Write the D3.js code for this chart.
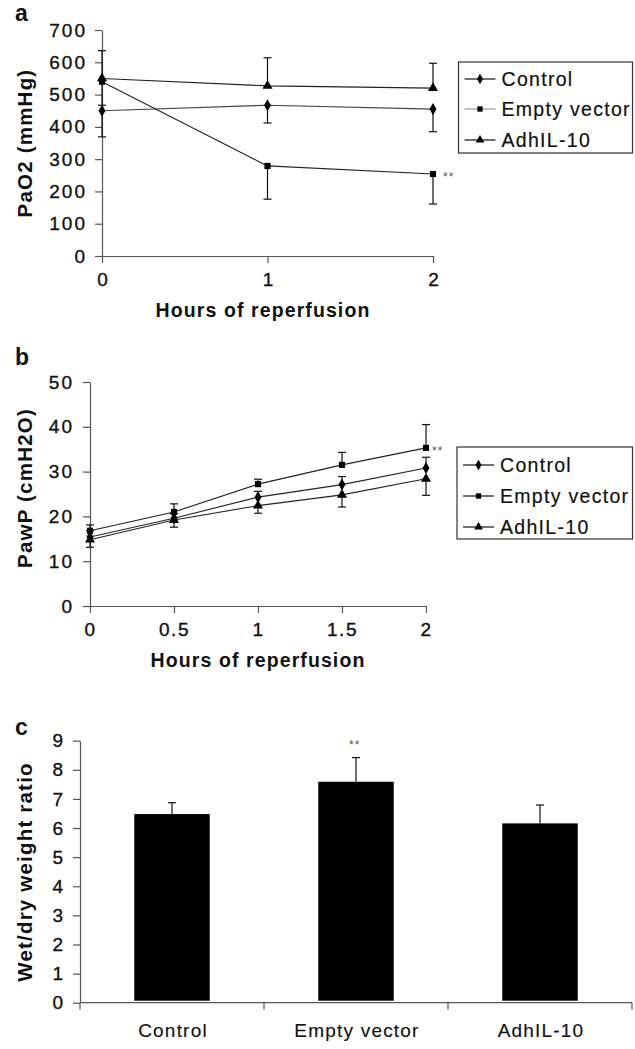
<!DOCTYPE html>
<html>
<head>
<meta charset="utf-8">
<script src="https://cdn.jsdelivr.net/npm/d3@7"></script>
<style>
  html, body { margin: 0; padding: 0; background: #fff; }
  svg { display: block; font-family: "Liberation Sans", Arial, sans-serif; }
</style>
</head>
<body>
<svg id="chart" width="635" height="1049"></svg>
<script>
// ---------------- DATA ----------------
const seriesNames = ["Control", "Empty vector", "AdhIL-10"];

// Panel a: PaO2 (mmHg)
const hoursA = [0, 1, 2];
const paO2Control = [450, 467, 455];
const paO2Empty = [540, 279, 254];
const paO2Adh = [550, 527, 520];
// one-sided error bar ends (as drawn)
const paO2ControlErr = [369, 412, 385];   // minus
const paO2EmptyErr = [467, 176, 161];     // minus
const paO2AdhErr = [636, 614, 597];       // plus
const ticksAY = [0, 100, 200, 300, 400, 500, 600, 700];
const ticksAX = [0, 1, 2];

// Panel b: PawP (cmH2O)
const hoursB = [0, 0.5, 1, 1.5, 2];
const pawControl = [15.4, 19.6, 24.3, 27.1, 30.8];
const pawEmpty = [16.8, 21.0, 27.2, 31.5, 35.3];
const pawAdh = [14.8, 19.2, 22.4, 24.8, 28.4];
const pawControlErr = [16.8, 20.6, 25.6, 28.9, 33.2];  // plus
const pawEmptyErr = [18.1, 22.8, 28.3, 34.3, 40.5];    // plus
const pawAdhErr = [13.1, 17.6, 20.7, 22.1, 24.7];      // minus
const ticksBY = [0, 10, 20, 30, 40, 50];
const ticksBX = [0, 0.5, 1, 1.5, 2];

// Panel c: Wet/dry weight ratio
const groupsC = ["Control", "Empty vector", "AdhIL-10"];
const wetDry = [6.48, 7.59, 6.16];
const wetDryErr = [6.87, 8.42, 6.79];  // plus
const ticksCY = [0, 1, 2, 3, 4, 5, 6, 7, 8, 9];

// ---------------- DRAW ----------------
const svg = d3.select("#chart");
const AXIS = "#555";
const LINE = "#222";
const TXT = "#111";
const symbols = [d3.symbolDiamond, d3.symbolSquare, d3.symbolTriangle];
const symSize = [42, 38, 44];

function heavy(sel, w) {
  return sel.attr("stroke", TXT).attr("stroke-width", w == null ? 0.35 : w);
}

function styleAxis(g, fs, ls) {
  g.select(".domain").attr("stroke", AXIS).attr("stroke-width", 1.2);
  g.selectAll(".tick line").attr("stroke", AXIS).attr("stroke-width", 1.2);
  heavy(g.selectAll(".tick text")
    .attr("fill", TXT)
    .style("font-size", fs + "px")
    .style("letter-spacing", ls + "px"));
}

function lineSeries(g, x, y, xs, vals, errs, idx, lineColor) {
  const line = d3.line().x((d, i) => x(xs[i])).y(d => y(d));
  g.append("path").datum(vals)
    .attr("d", line).attr("fill", "none")
    .attr("stroke", lineColor || LINE).attr("stroke-width", 1.1);
  xs.forEach((xv, i) => {
    const px = x(xv);
    g.append("line").attr("x1", px).attr("x2", px)
      .attr("y1", y(vals[i])).attr("y2", y(errs[i]))
      .attr("stroke", "#111").attr("stroke-width", 1.2);
    g.append("line").attr("x1", px - 4).attr("x2", px + 4)
      .attr("y1", y(errs[i])).attr("y2", y(errs[i]))
      .attr("stroke", "#111").attr("stroke-width", 1.2);
  });
  g.selectAll(null).data(vals).enter().append("path")
    .attr("d", d3.symbol().type(symbols[idx]).size(symSize[idx]))
    .attr("transform", (d, i) => `translate(${x(xs[i])},${y(d)})`)
    .attr("fill", "#000");
}

function legend(g, x0, y0, w, h, rowYs, grayIdx) {
  g.append("rect").attr("x", x0).attr("y", y0).attr("width", w).attr("height", h)
    .attr("fill", "#fff").attr("stroke", "#333").attr("stroke-width", 1.2);
  seriesNames.forEach((name, i) => {
    const ry = rowYs[i];
    const col = (i === grayIdx) ? "#999" : "#111";
    g.append("line").attr("x1", x0 + 6).attr("x2", x0 + 37)
      .attr("y1", ry).attr("y2", ry).attr("stroke", col).attr("stroke-width", 1.2);
    g.append("path")
      .attr("d", d3.symbol().type(symbols[i]).size(symSize[i] * 0.75))
      .attr("transform", `translate(${x0 + 21.5},${ry})`).attr("fill", "#000");
    heavy(g.append("text").attr("x", x0 + 43).attr("y", ry + 7)
      .style("font-size", "19.5px").style("letter-spacing", "1.3px")
      .attr("fill", TXT).text(name), 0.2);
  });
}

function yTitle(text, cx, cy) {
  svg.append("text")
    .attr("transform", `translate(${cx},${cy}) rotate(-90)`)
    .attr("text-anchor", "middle").attr("dy", "0.35em")
    .style("font-size", "20.5px").style("font-weight", "bold").style("letter-spacing", "1.2px")
    .attr("fill", TXT).text(text);
}
function xTitle(text, cx, cy) {
  svg.append("text").attr("x", cx).attr("y", cy)
    .attr("text-anchor", "middle").attr("dy", "0.35em")
    .style("font-size", "19.5px").style("font-weight", "bold").style("letter-spacing", "1.1px")
    .attr("fill", TXT).text(text);
}
function panelLabel(t, x, y) {
  svg.append("text").attr("x", x).attr("y", y)
    .style("font-size", "23px").style("font-weight", "bold")
    .attr("fill", TXT).text(t);
}
function stars(x, y) {
  svg.append("text").attr("x", x).attr("y", y)
    .style("font-size", "12px").style("letter-spacing", "1px")
    .attr("fill", "#555").text("**");
}

// ---------- Panel a ----------
const xA = d3.scaleLinear().domain([0, 2]).range([102, 433]);
const yA = d3.scaleLinear().domain([0, 700]).range([256, 30]);
const gA = svg.append("g");
const axAY = gA.append("g").attr("transform", `translate(${xA(0)},0)`)
  .call(d3.axisLeft(yA).tickValues(ticksAY).tickSize(7).tickPadding(8).tickSizeOuter(0));
styleAxis(axAY, 19, 2);
const axAX = gA.append("g").attr("transform", `translate(0,${yA(0)})`)
  .call(d3.axisBottom(xA).tickValues(ticksAX).tickFormat(d3.format("d")).tickSize(7).tickPadding(10).tickSizeOuter(0));
styleAxis(axAX, 19, 0);
lineSeries(gA, xA, yA, hoursA, paO2Control, paO2ControlErr, 0, "#444");
lineSeries(gA, xA, yA, hoursA, paO2Empty, paO2EmptyErr, 1);
lineSeries(gA, xA, yA, hoursA, paO2Adh, paO2AdhErr, 2);
stars(443, 181);
legend(gA, 458.5, 62, 174, 91, [79, 109, 140], 1);
yTitle("PaO2 (mmHg)", 25, 143);
xTitle("Hours of reperfusion", 263, 310);
panelLabel("a", 15, 21);

// ---------- Panel b ----------
const xB = d3.scaleLinear().domain([0, 2]).range([90, 426]);
const yB = d3.scaleLinear().domain([0, 50]).range([606, 382]);
const gB = svg.append("g");
const axBY = gB.append("g").attr("transform", `translate(${xB(0)},0)`)
  .call(d3.axisLeft(yB).tickValues(ticksBY).tickSize(7).tickPadding(9).tickSizeOuter(0));
styleAxis(axBY, 19, 2);
const axBX = gB.append("g").attr("transform", `translate(0,${yB(0)})`)
  .call(d3.axisBottom(xB).tickValues(ticksBX).tickFormat(d => d3.format("")(d)).tickSize(7).tickPadding(10).tickSizeOuter(0));
styleAxis(axBX, 19, 1.5);
lineSeries(gB, xB, yB, hoursB, pawControl, pawControlErr, 0);
lineSeries(gB, xB, yB, hoursB, pawEmpty, pawEmptyErr, 1);
lineSeries(gB, xB, yB, hoursB, pawAdh, pawAdhErr, 2);
stars(432, 455);
legend(gB, 457, 447, 175.5, 92, [465, 496, 527], -1);
yTitle("PawP (cmH2O)", 25, 488);
xTitle("Hours of reperfusion", 258, 660);
panelLabel("b", 15, 365);

// ---------- Panel c ----------
const xC = d3.scaleBand().domain(groupsC).range([80, 632]).padding(0);
const yC = d3.scaleLinear().domain([0, 9]).range([1002.7, 740.7]);
const gC = svg.append("g");
const axCY = gC.append("g").attr("transform", `translate(${xC.range()[0]},0)`)
  .call(d3.axisLeft(yC).tickValues(ticksCY).tickSize(7).tickPadding(10).tickSizeOuter(0));
styleAxis(axCY, 19, 0);
const barW = xC.bandwidth() * 0.41;
const boundaries = groupsC.map(g => xC(g)).concat([xC.range()[1]]);
gC.append("line").attr("x1", xC.range()[0]).attr("x2", xC.range()[1])
  .attr("y1", yC(0)).attr("y2", yC(0)).attr("stroke", AXIS).attr("stroke-width", 1.2);
gC.selectAll(null).data(boundaries).enter().append("line")
  .attr("x1", d => d).attr("x2", d => d)
  .attr("y1", yC(0)).attr("y2", yC(0) + 7).attr("stroke", AXIS).attr("stroke-width", 1.2);
heavy(gC.selectAll(null).data(groupsC).enter().append("text")
  .attr("x", d => xC(d) + xC.bandwidth() / 2 + 1).attr("y", 1037)
  .attr("text-anchor", "middle")
  .style("font-size", "19px").style("letter-spacing", "1.2px")
  .attr("fill", TXT).text(d => d), 0.15);
gC.selectAll(null).data(wetDry).enter().append("rect")
  .attr("x", (d, i) => xC(groupsC[i]) + xC.bandwidth() / 2 - barW / 2)
  .attr("y", d => yC(d))
  .attr("width", barW)
  .attr("height", d => yC(0) - 2 - yC(d))
  .attr("fill", "#000");
wetDry.forEach((v, i) => {
  const cx = xC(groupsC[i]) + xC.bandwidth() / 2;
  gC.append("line").attr("x1", cx).attr("x2", cx).attr("y1", yC(v)).attr("y2", yC(wetDryErr[i]))
    .attr("stroke", "#111").attr("stroke-width", 1.2);
  gC.append("line").attr("x1", cx - 4).attr("x2", cx + 4).attr("y1", yC(wetDryErr[i])).attr("y2", yC(wetDryErr[i]))
    .attr("stroke", "#111").attr("stroke-width", 1.2);
});
stars(349, 749);
yTitle("Wet/dry weight ratio", 25, 872);
panelLabel("c", 15, 735);
</script>
</body>
</html>
